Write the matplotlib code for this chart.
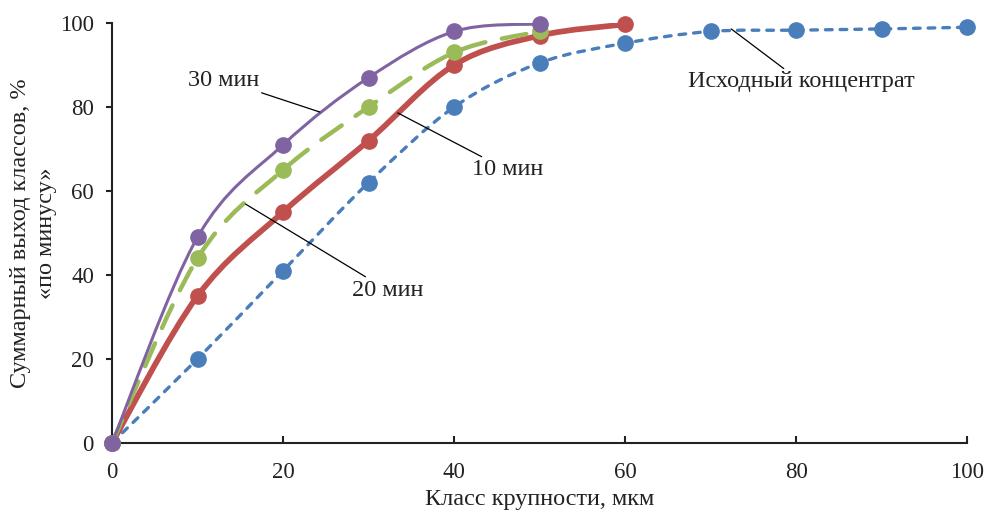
import numpy as np
import matplotlib.pyplot as plt
from matplotlib.path import Path
from matplotlib.patches import PathPatch

plt.rcParams['font.family'] = ['Liberation Serif', 'DejaVu Serif']

# data
x_src = [0, 10, 20, 30, 40, 50, 60, 70, 80, 90, 100]
y_src = [0, 20, 41, 62, 80, 90.5, 95.2, 98, 98.3, 98.6, 99]
x_10 = [0, 10, 20, 30, 40, 50, 60]
y_10 = [0, 35, 55, 72, 90, 97, 99.7]
x_20 = [0, 10, 20, 30, 40, 50]
y_20 = [0, 44, 65, 80, 93, 98]
x_30 = [0, 10, 20, 30, 40, 50]
y_30 = [0, 49, 71, 87, 98, 99.8]

xticks = [0, 20, 40, 60, 80, 100]
yticks = [0, 20, 40, 60, 80, 100]


def smooth_path(xs, ys):
    # Excel-like smoothed line: cubic Bezier through the points
    p = np.column_stack([xs, ys]).astype(float)
    verts = [p[0]]
    codes = [Path.MOVETO]
    n = len(p)
    for i in range(n - 1):
        p0 = p[i - 1] if i > 0 else p[i]
        p3 = p[i + 2] if i + 2 < n else p[i + 1]
        c1 = p[i] + (p[i + 1] - p0) / 6.0
        c2 = p[i + 1] - (p3 - p[i]) / 6.0
        verts += [c1, c2, p[i + 1]]
        codes += [Path.CURVE4] * 3
    return Path(verts, codes)


fig = plt.figure(figsize=(9.87, 5.12), dpi=100)
ax = fig.add_axes([0.1135, 0.135, 0.8665, 0.82])

series = [
    (x_src, y_src, '#4A7EBB', 2.4, (0, (2.0, 2.4)), 'round'),
    (x_10, y_10, '#C0504D', 4.1, '-', 'butt'),
    (x_20, y_20, '#9BBB59', 3.2, (0, (5.6, 3.8)), 'round'),
    (x_30, y_30, '#8064A2', 2.2, '-', 'butt'),
]
for xs, ys, col, lw, ls, cap in series:
    patch = PathPatch(smooth_path(xs, ys), facecolor='none', edgecolor=col,
                      lw=lw, linestyle=ls, capstyle=cap, zorder=2)
    ax.add_patch(patch)
    ax.plot(xs, ys, 'o', color=col, markersize=11, zorder=3, clip_on=False)

ax.set_xlim(0, 100)
ax.set_ylim(0, 100)
ax.set_xticks(xticks)
ax.set_yticks(yticks)
ax.spines['top'].set_visible(False)
ax.spines['right'].set_visible(False)
for s in ['left', 'bottom']:
    ax.spines[s].set_linewidth(1.5)
    ax.spines[s].set_color('#222222')
ax.tick_params(axis='x', direction='in', length=5, width=1.5, labelsize=16.5, pad=14,
               colors='#222222')
ax.tick_params(axis='y', direction='out', length=4, width=1.5, labelsize=16.5, pad=9,
               colors='#222222')
ax.set_xlabel('Класс крупности, мкм', fontsize=17.5, labelpad=4, color='#222222')
ax.set_ylabel('Суммарный выход классов, %\n«по минусу»', fontsize=17.5, labelpad=2,
              linespacing=1.35, color='#222222')

ann = dict(arrowprops=dict(arrowstyle='-', color='black', lw=0.9, shrinkA=0, shrinkB=0),
           fontsize=17.5, color='#222222', ha='center', va='center')
ax.annotate('30 мин', xy=(24.3, 78.8), xytext=(13.0, 86.4), **ann)
ax.annotate('10 мин', xy=(33.4, 78.6), xytext=(46.2, 65.0), **ann)
ax.annotate('20 мин', xy=(15.6, 56.9), xytext=(32.2, 36.4), **ann)
ax.annotate('Исходный концентрат', xy=(72.4, 98.6), xytext=(80.6, 86.0), **ann)

fig.savefig('out.png', dpi=100)
